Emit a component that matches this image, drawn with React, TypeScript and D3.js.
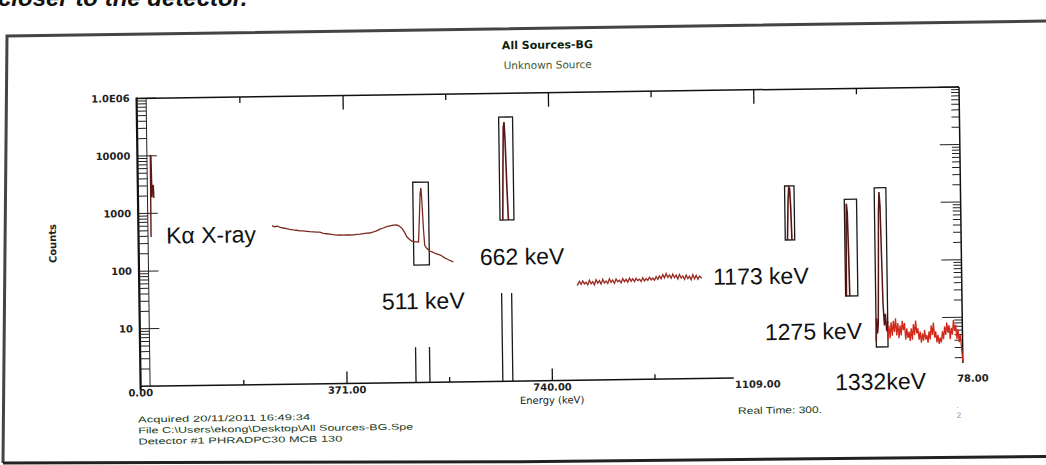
import * as d3 from "d3";

// axes
const xTicks = [0, 371, 740, 1109, 1478];
const xTickLabels = ["0.00", "371.00", "740.00", "1109.00", "78.00"];
const xMinorTicks = [185.5, 555.5, 924.5, 1293.5];
const yTicks = [1e5, 1e4, 1e3, 100, 10];
const yTickLabels = ["1.0E06", "10000", "1000", "100", "10"];

// visible pieces of the spectrum, [keV, counts]
const lowSpike = [[22.5, 390], [23.3, 10300], [24.3, 9600], [25.3, 1900], [26.5, 2800], [27.8, 3100], [28.6, 1850]];
const continuum = [
  [240, 565], [245, 548], [250, 560], [255, 530], [260, 518], [266, 505], [272, 490], [278, 478], [284, 470],
  [290, 458], [296, 455], [302, 447], [308, 440], [314, 436], [320, 430], [326, 432], [332, 410], [338, 402],
  [344, 395], [350, 385], [356, 378], [362, 382], [368, 376], [374, 380], [380, 377], [386, 378], [392, 385],
  [398, 388], [404, 395], [410, 402], [416, 404], [422, 420], [428, 440], [434, 470], [440, 490], [446, 515],
  [452, 530], [458, 545], [464, 549], [468, 530], [473, 485], [478, 410], [482, 340], [487, 305], [491, 286],
  [496, 278], [500, 276], [503, 275], [505, 700], [507, 1900], [508.5, 2380], [510, 1400], [512, 480], [514, 240],
  [518, 210], [523, 190], [528, 182], [533, 172], [538, 165], [542, 161], [546, 152], [550, 142], [554, 137],
  [558, 130], [562, 126], [565, 121],
];
const peak662 = [[655, 630], [656.5, 5000], [658, 25000], [659.5, 31600], [661, 15000], [663, 2500], [665, 630]];
const plateau = [
  [787, 44], [791, 52], [794, 46], [797, 53], [800, 47], [803, 50], [806, 45], [809, 54], [812, 47], [815, 51],
  [818, 45], [821, 55], [824, 48], [827, 53], [830, 46], [833, 56], [836, 48], [839, 52], [842, 47], [845, 57],
  [848, 49], [851, 54], [854, 47], [857, 56], [860, 50], [863, 53], [866, 48], [869, 57], [872, 50], [875, 55],
  [878, 49], [881, 58], [884, 51], [887, 56], [890, 50], [893, 57], [896, 52], [899, 55], [902, 50], [905, 58],
  [908, 51], [911, 56], [914, 52], [917, 59], [920, 53], [923, 57], [926, 52], [929, 60], [932, 54], [935, 62],
  [938, 55], [941, 65], [944, 57], [947, 68], [950, 58], [953, 64], [956, 56], [959, 66], [962, 57], [965, 63],
  [968, 54], [971, 65], [974, 56], [977, 61], [980, 53], [983, 63], [986, 55], [989, 60], [992, 52], [995, 64],
  [998, 54], [1001, 62], [1004, 53], [1007, 60], [1011, 55],
];
const peak1173 = [[1166, 242], [1168, 1200], [1169.5, 2000], [1171, 1900], [1172.5, 900], [1174, 242]];
const peak1275 = [[1270.5, 25], [1271.5, 300], [1272.5, 1000], [1274, 700], [1275.5, 120], [1276.5, 25]];
const peak1332 = [
  [1323, 4], [1324, 10], [1325.5, 5.5], [1327, 8], [1328.5, 60], [1330, 700], [1331.5, 1560], [1333, 900],
  [1334.5, 120], [1336, 18], [1338, 7.5], [1340, 12], [1342, 6], [1344, 9],
];
const tail = [
  [1344, 4.2], [1346, 7.5], [1348, 4.5], [1350, 8.5], [1352, 5], [1354, 9], [1356, 5.8], [1358, 10], [1360, 5],
  [1362, 8.2], [1364, 4.5], [1366, 7.5], [1368, 5], [1370, 9], [1372, 6.2], [1374, 8.2], [1376, 4.2], [1378, 6.6],
  [1380, 4.5], [1382, 5.8], [1384, 4], [1386, 6.6], [1388, 4.2], [1390, 7.8], [1392, 5], [1394, 9], [1396, 5.4],
  [1398, 6.6], [1400, 4.2], [1402, 5.8], [1404, 3.7], [1406, 5.4], [1408, 4], [1410, 6.2], [1412, 4.2], [1414, 5],
  [1416, 3.7], [1418, 5.8], [1420, 4.2], [1422, 7.4], [1424, 5], [1426, 8.2], [1428, 4.5], [1430, 5.8], [1432, 3.7],
  [1434, 5], [1436, 3.5], [1438, 4.5], [1440, 3.7], [1442, 5.8], [1444, 4.2], [1446, 7], [1448, 5], [1450, 8.2],
  [1452, 5.4], [1454, 7.4], [1456, 4.2], [1458, 6.6], [1460, 5], [1462, 9], [1464, 5.8], [1466, 7.4], [1468, 4.2],
  [1470, 6.2], [1472, 3.7], [1474, 5], [1476, 3], [1478, 1.7],
];

// ROI boxes (keV / counts) and the stubs left below two of them
const roiLow = [494, 650, 1162, 1269, 1323];
const roiHigh = [522, 675, 1179, 1291, 1344];
const roiTop = [3000, 38600, 2100, 1190, 1860];
const roiBottom = [109, 630, 242, 25, 3.2];
const stubLow = [495, 651];
const stubHigh = [520, 669];
const stubTop = [4.1, 34];

// hand labels pasted on the printout
const peakLabels = ["Kα X-ray", "511 keV", "662 keV", "1173 keV", "1275 keV", "1332keV"];
const peakLabelPos = [[166, 238.5], [381, 307.5], [479.5, 264.5], [712.5, 287.5], [763.5, 343.5], [833, 394.5]];

const infoLines = [
  "Acquired  20/11/2011 16:49:34",
  "File   C:\\Users\\ekong\\Desktop\\All Sources-BG.Spe",
  "Detector  #1 PHRADPC30 MCB 130",
];
const infoWidths = [172, 275, 204];

const width = 1046;
const height = 465;

export default function App() {
  const x = d3.scaleLinear().domain([0, 1478]).range([138.5, 961]);
  const y = d3.scaleLog().domain([1, 1e5]).range([381, 93]);
  const line = d3.line<number[]>().x((d) => x(d[0])).y((d) => y(d[1]));

  const minorY = y.ticks().filter((v) => v > 1 && !yTicks.includes(v));
  const x0 = x(0);
  const x1 = x(1478);
  const top = y(1e5);
  const bottom = y(1);
  const axisEnd = 1066; // bottom axis is hidden past here
  const rightEnd = 1.6;

  const sans = "'DejaVu Sans', sans-serif";
  const arial = "'Liberation Sans', Arial, sans-serif";

  return (
    <svg width={width} height={height} style={{ position: "absolute", left: 0, top: 0, background: "#fff" }}>
      {/* cut-off caption above the figure */}
      <text x={-2} y={6} fontFamily={arial} fontSize={24} fontWeight="bold" fontStyle="italic" fill="#111">
        closer to the detector.
      </text>
      {/* page frame */}
      <polyline points="3,463 7,36 1046,21" fill="none" stroke="#444" strokeWidth={3} />
      <polyline points="3,463 520,461.7 1046,456.5" fill="none" stroke="#222" strokeWidth={3} />

      <g transform="rotate(-0.8 523 232)">
        <text x={550} y={49} textAnchor="middle" fontFamily={sans} fontSize={11} fontWeight="bold" fill="#0d1f0d">
          All Sources-BG
        </text>
        <text x={550} y={69} textAnchor="middle" fontFamily={sans} fontSize={10.5} fill="#3b5a34">
          Unknown Source
        </text>

        {/* left axis: thick line + ladder */}
        <line x1={x0} x2={x0} y1={top - 1} y2={bottom + 4} stroke="#111" strokeWidth={2.2} />
        <line x1={148} x2={148} y1={top} y2={bottom} stroke="#222" strokeWidth={1} />
        {minorY.map((v) => (
          <line key={"lm" + v} x1={x0} x2={148} y1={y(v)} y2={y(v)} stroke="#222" strokeWidth={1} />
        ))}
        {yTicks.map((v) => (
          <line key={"lM" + v} x1={x0} x2={158} y1={y(v)} y2={y(v)} stroke="#222" strokeWidth={1} />
        ))}
        {yTicks.map((v, i) => (
          <text key={"yl" + v} x={x0 - 7} y={y(v)} dy="0.35em" textAnchor="end" fontFamily={sans} fontSize={10} fontWeight="bold" fill="#222">
            {yTickLabels[i]}
          </text>
        ))}

        {/* right axis */}
        <line x1={x1} x2={x1} y1={top} y2={y(rightEnd)} stroke="#111" strokeWidth={1.5} />
        {minorY.filter((v) => v >= rightEnd).map((v) => (
          <line key={"rm" + v} x1={x1} x2={x1 - 8} y1={y(v)} y2={y(v)} stroke="#222" strokeWidth={1} />
        ))}
        {yTicks.map((v) => (
          <line key={"rM" + v} x1={x1} x2={x1 - 20} y1={y(v)} y2={y(v)} stroke="#222" strokeWidth={1} />
        ))}

        {/* top axis */}
        <line x1={x0} x2={x1} y1={top} y2={top} stroke="#111" strokeWidth={1.5} />
        {xTicks.slice(1, 4).map((v) => (
          <line key={"tM" + v} x1={x(v)} x2={x(v)} y1={top} y2={top + 14} stroke="#111" strokeWidth={1.3} />
        ))}
        {xMinorTicks.map((v) => (
          <line key={"tm" + v} x1={x(v)} x2={x(v)} y1={top} y2={top + 6} stroke="#111" strokeWidth={1.3} />
        ))}

        {/* bottom axis */}
        <line x1={x0} x2={x(axisEnd)} y1={bottom} y2={bottom} stroke="#111" strokeWidth={1.5} />
        {xTicks.slice(1, 4).filter((v) => v < axisEnd).map((v) => (
          <line key={"bM" + v} x1={x(v)} x2={x(v)} y1={bottom} y2={bottom - 12} stroke="#111" strokeWidth={1.3} />
        ))}
        {xMinorTicks.filter((v) => v < axisEnd).map((v) => (
          <line key={"bm" + v} x1={x(v)} x2={x(v)} y1={bottom} y2={bottom - 5} stroke="#111" strokeWidth={1.3} />
        ))}
        {xTicks.map((v, i) =>
          i < xTicks.length - 1 ? (
            <text key={"xl" + v} x={x(v)} y={391} textAnchor="middle" fontFamily={sans} fontSize={10} fontWeight="bold" fill="#222">
              {xTickLabels[i]}
            </text>
          ) : (
            <text key={"xl" + v} x={x(v) - 6} y={388} fontFamily={sans} fontSize={10} fontWeight="bold" fill="#222">
              {xTickLabels[i]}
            </text>
          )
        )}
        <text x={(x0 + x1) / 2} y={404} textAnchor="middle" fontFamily={sans} fontSize={10} fill="#222">
          Energy (keV)
        </text>
        <text transform={`translate(56,${(top + bottom) / 2}) rotate(-90)`} textAnchor="middle" fontFamily={sans} fontSize={10} fontWeight="bold" fill="#222">
          Counts
        </text>

        {/* ROI markers */}
        {roiLow.map((lo, i) => (
          <rect key={"roi" + i} x={x(lo)} y={y(roiTop[i])} width={x(roiHigh[i]) - x(lo)} height={y(roiBottom[i]) - y(roiTop[i])}
            fill="none" stroke="#1a1a1a" strokeWidth={1.3} />
        ))}
        {stubLow.map((lo, i) => (
          <g key={"stub" + i} stroke="#1a1a1a" strokeWidth={1.3}>
            <line x1={x(lo)} x2={x(lo)} y1={y(stubTop[i])} y2={bottom} />
            <line x1={x(stubHigh[i])} x2={x(stubHigh[i])} y1={y(stubTop[i])} y2={bottom} />
          </g>
        ))}

        {/* spectrum */}
        <path d={line(lowSpike) ?? ""} fill="none" stroke="#5e1712" strokeWidth={1.4} />
        <path d={line(continuum) ?? ""} fill="none" stroke="#7b2a22" strokeWidth={1.3} />
        <path d={line(peak662) ?? ""} fill="none" stroke="#5a1414" strokeWidth={1.6} />
        <path d={line(plateau) ?? ""} fill="none" stroke="#9a2a20" strokeWidth={1.3} />
        <path d={line(peak1173) ?? ""} fill="none" stroke="#5a1414" strokeWidth={1.6} />
        <path d={line(peak1275) ?? ""} fill="none" stroke="#5a1414" strokeWidth={1.6} />
        <path d={line(peak1332) ?? ""} fill="none" stroke="#5a1414" strokeWidth={1.5} />
        <path d={line(tail) ?? ""} fill="none" stroke="#d0281a" strokeWidth={1.3} />

        {/* peak labels */}
        {peakLabels.map((t, i) => (
          <text key={t} x={peakLabelPos[i][0]} y={peakLabelPos[i][1]} fontFamily={arial} fontSize={23} fill="#111">
            {t}
          </text>
        ))}

        {/* acquisition info */}
        {infoLines.map((t, i) => (
          <text key={"info" + i} x={135.5} y={417 + i * 11} fontFamily={arial} fontSize={8.5} fill="#1c3b1c"
            textLength={infoWidths[i]} lengthAdjust="spacingAndGlyphs">
            {t}
          </text>
        ))}
        <text x={735.5} y={417} fontFamily={arial} fontSize={9.5} fill="#1c3b1c" textLength={84} lengthAdjust="spacingAndGlyphs">
          Real Time: 300.
        </text>
        <text x={954} y={414} fontFamily={arial} fontSize={8} fill="#999">.</text>
        <text x={954} y={424} fontFamily={arial} fontSize={8} fill="#999">2</text>
      </g>
    </svg>
  );
}
